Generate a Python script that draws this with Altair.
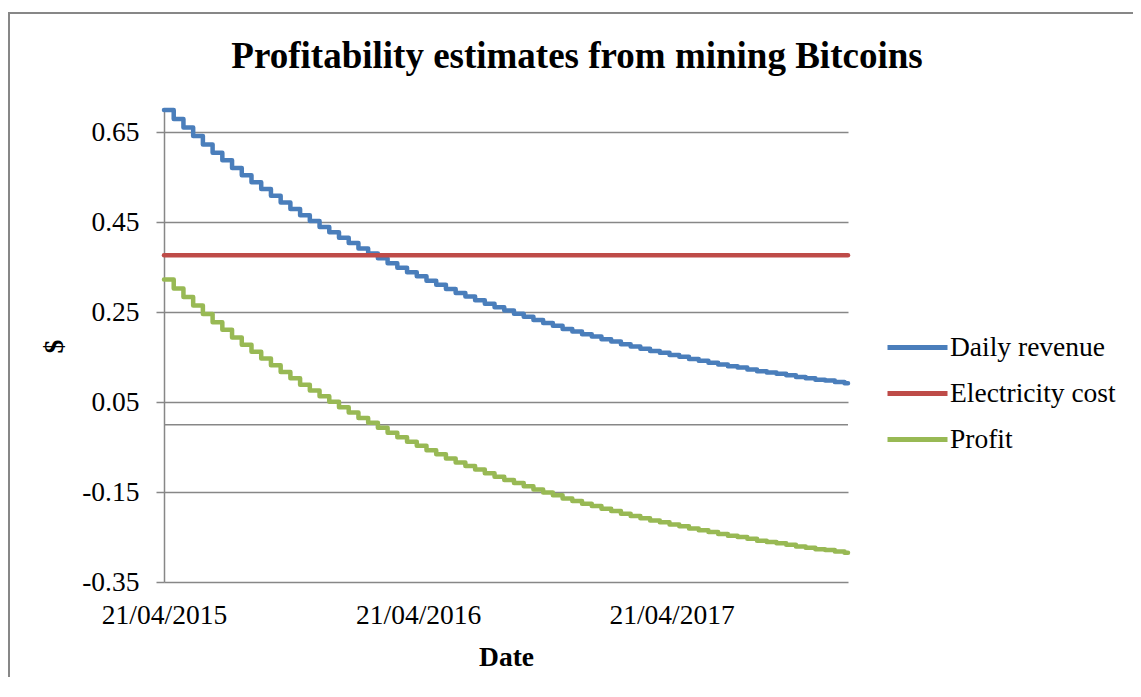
import altair as alt
import pandas as pd

# ---------------- data ----------------
chart_title = "Profitability estimates from mining Bitcoins"
series_names = ["Daily revenue", "Electricity cost", "Profit"]
series_colors = ["#4A7EBB", "#BE4B48", "#98B954"]

start_date = "2015-04-21"
end_date = "2017-12-31"
step_days = 14  # revenue changes at each (two-weekly) difficulty adjustment

# daily revenue ($) on each two-week step
revenue_steps = [
    0.700, 0.680, 0.661, 0.642, 0.623, 0.605, 0.588, 0.571, 0.555, 0.539,
    0.524, 0.509, 0.494, 0.480, 0.466, 0.453, 0.440, 0.428, 0.416, 0.404,
    0.392, 0.381, 0.370, 0.359, 0.349, 0.339, 0.330, 0.320, 0.311, 0.302,
    0.293, 0.285, 0.277, 0.269, 0.261, 0.254, 0.247, 0.240, 0.233, 0.226,
    0.220, 0.213, 0.207, 0.201, 0.196, 0.190, 0.185, 0.179, 0.174, 0.169,
    0.164, 0.160, 0.155, 0.151, 0.146, 0.142, 0.138, 0.134, 0.130, 0.127,
    0.123, 0.119, 0.116, 0.113, 0.110, 0.106, 0.103, 0.100, 0.098, 0.095,
    0.092,
]
electricity_cost = 0.377  # flat red line

y_ticks = [-0.35, -0.15, 0.05, 0.25, 0.45, 0.65]
y_domain = [-0.35, 0.70]
x_tick_dates = ["2015-04-21", "2016-04-21", "2017-04-21"]

# ---------------- tables ----------------
step_dates = list(pd.date_range(start_date, periods=len(revenue_steps), freq=f"{step_days}D"))
rev_dates = step_dates + [pd.Timestamp(end_date)]
rev_values = revenue_steps + [revenue_steps[-1]]

rev_df = pd.DataFrame({"date": rev_dates, "value": rev_values, "series": series_names[0]})
cost_df = pd.DataFrame({"date": [pd.Timestamp(start_date), pd.Timestamp(end_date)],
                        "value": [electricity_cost, electricity_cost],
                        "series": series_names[1]})
profit_df = pd.DataFrame({"date": rev_dates,
                          "value": [round(v - electricity_cost, 4) for v in rev_values],
                          "series": series_names[2]})
df = pd.concat([rev_df, cost_df, profit_df], ignore_index=True)


def dt(s):
    t = pd.Timestamp(s)
    return alt.DateTime(year=t.year, month=t.month, date=t.day)


GRID = "#878787"
FONT = "Liberation Serif"
FS = 27.5

lines = alt.Chart(df).mark_line(
    interpolate="step-after", strokeWidth=4.5, strokeJoin="round", strokeCap="round"
).encode(
    x=alt.X(
        "date:T",
        title="Date",
        scale=alt.Scale(domain=[dt(start_date), dt(end_date)]),
        axis=alt.Axis(
            values=[dt(d) for d in x_tick_dates],
            format="%d/%m/%Y",
            formatType="time",
            grid=False,
            domain=False,
            ticks=False,
            labelFlush=False,
            labelOverlap=False,
            labelPadding=19,
            titlePadding=15,
        ),
    ),
    y=alt.Y(
        "value:Q",
        title="$",
        scale=alt.Scale(domain=y_domain, nice=False, zero=False),
        axis=alt.Axis(
            values=y_ticks,
            labelExpr="replace(format(datum.value, '.2f'), '\u2212', '-')",
            grid=True,
            tickSize=8,
            labelPadding=17,
            titlePadding=13,
        ),
    ),
    color=alt.Color(
        "series:N",
        title=None,
        scale=alt.Scale(domain=series_names, range=series_colors),
        legend=alt.Legend(
            orient="none",
            legendX=721,
            legendY=205,
            symbolType="stroke",
            symbolSize=3600,
            symbolStrokeWidth=5,
            labelFont=FONT,
            labelFontSize=FS,
            labelColor="black",
            labelOffset=0,
            labelLimit=400,
            rowPadding=-15.5,
            padding=0,
        ),
    ),
)

zero_line = alt.Chart(pd.DataFrame({"z": [0]})).mark_rule(color=GRID, strokeWidth=1.5).encode(
    y=alt.datum(0)
)

frame = alt.Chart(pd.DataFrame({"f": [0]})).mark_rect(
    fillOpacity=0, stroke=GRID, strokeWidth=2
).encode(
    x=alt.value(-155), x2=alt.value(1400), y=alt.value(-97), y2=alt.value(1000)
)

title_mark = alt.Chart(pd.DataFrame({"t": [chart_title]})).mark_text(
    font=FONT, fontSize=37, fontWeight="bold", color="black",
    align="center", baseline="alphabetic",
).encode(
    text="t:N", x=alt.value(413), y=alt.value(-42)
)

chart = alt.layer(frame, zero_line, lines, title_mark).properties(
    width=684,
    height=472,
    autosize=alt.AutoSizeParams(type="none"),
    padding={"left": 156, "top": 102, "right": 285, "bottom": 95},
).configure_view(strokeWidth=0).configure_axis(
    labelFont=FONT,
    labelFontSize=FS,
    labelColor="black",
    titleFont=FONT,
    titleFontSize=FS,
    titleFontWeight="bold",
    titleColor="black",
    gridColor=GRID,
    gridWidth=1.5,
    domainColor=GRID,
    domainWidth=1.5,
    tickColor=GRID,
    tickWidth=1.5,
)

chart.save("out.html", embed_options={"renderer": "svg", "actions": False})
